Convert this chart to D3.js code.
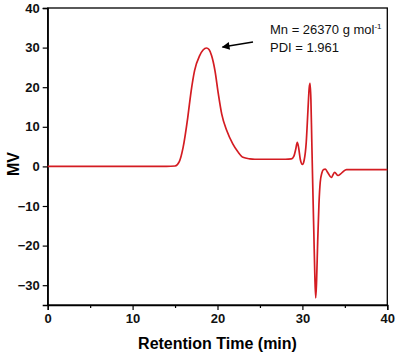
<!DOCTYPE html>
<html><head><meta charset="utf-8">
<script src="https://cdn.jsdelivr.net/npm/d3@7"></script>
<style>body{margin:0;background:#fff}svg{display:block}</style>
</head><body>
<svg id="c" width="398" height="356"></svg>
<script>
const times = [0,5,10,14,15,15.5,15.95,16.5,16.9,17.3,17.9,18.3,18.7,19.0,19.3,19.7,20.1,20.5,21.1,21.8,22.4,23.0,23.8,24.4,26,28.0,28.7,29.0,29.2,29.4,29.55,29.75,30.0,30.2,30.45,30.65,30.8,30.9,31.0,31.1,31.2,31.35,31.47,31.57,31.67,31.8,31.95,32.1,32.3,32.5,32.7,33.0,33.4,33.8,34.2,34.5,34.8,35.2,37,40];
const signal = [0,0,0,0,0.1,1.2,4.8,12.4,19.1,24.2,28,29.4,29.9,29.5,28,24.2,18.3,13.2,9,5.7,3.7,2.3,1.9,1.8,1.8,1.8,1.9,2.6,4.2,6.1,4.8,1.8,0.5,1.5,6,14,19.8,21,17,7,-3,-17,-28,-33.2,-29,-19,-9.5,-4,-1.6,-0.8,-0.7,-1.6,-2.8,-1.5,-2.3,-1.9,-1.3,-0.8,-0.8,-0.8];
const xTicks = [0,10,20,30,40];
const xMinor = [5,15,25,35];
const yTicks = [-30,-20,-10,0,10,20,30,40];
const annoLines = ["Mn = 26370 g mol", "PDI = 1.961"];

const svg = d3.select("#c");
const L=47.7, R=387.3, T=8, B=305;
const x = d3.scaleLinear().domain([0,40]).range([L,R]);
const y = d3.scaleLinear().domain([-35,40]).range([B,T]);

// frame
svg.append("rect").attr("x",L).attr("y",T).attr("width",R-L).attr("height",B-T)
  .attr("fill","none").attr("stroke","#000").attr("stroke-width",1.3);

const xa = svg.append("g").attr("transform",`translate(0,${B})`)
  .call(d3.axisBottom(x).tickValues(xTicks).tickSize(5).tickPadding(4).tickFormat(d3.format("d")));
svg.append("g").attr("transform",`translate(0,${B})`)
  .call(d3.axisBottom(x).tickValues(xMinor).tickSize(3).tickFormat(""))
  .select(".domain").remove();
const ya = svg.append("g").attr("transform",`translate(${L},0)`)
  .call(d3.axisLeft(y).tickValues(yTicks).tickSize(5).tickPadding(3).tickFormat(d3.format("d")));
svg.selectAll(".tick line").attr("stroke","#000").attr("stroke-width",1.2);
svg.selectAll(".domain").attr("stroke","#000").attr("stroke-width",1.3);
svg.selectAll(".tick text").attr("font-family","Liberation Sans, Arial, sans-serif")
  .attr("font-weight","bold").attr("font-size",13).attr("fill","#111");

svg.append("text").attr("x",(L+R)/2).attr("y",349).attr("text-anchor","middle")
  .attr("font-family","Liberation Sans, Arial, sans-serif").attr("font-weight","bold")
  .attr("font-size",16).text("Retention Time (min)");
svg.append("text").attr("transform","translate(19,164) rotate(-90)").attr("text-anchor","middle")
  .attr("font-family","Liberation Sans, Arial, sans-serif").attr("font-weight","bold")
  .attr("font-size",16).text("MV");

const line = d3.line().x((d,i)=>x(times[i])).y(d=>y(d)).curve(d3.curveMonotoneX);
svg.append("path").datum(signal).attr("d",line).attr("fill","none")
  .attr("stroke","#d41c22").attr("stroke-width",1.7).attr("stroke-linejoin","round");

// annotation
const t1 = svg.append("text").attr("x",270).attr("y",34)
  .attr("font-family","Liberation Sans, Arial, sans-serif").attr("font-size",13).attr("fill","#111")
  .text(annoLines[0]);
t1.append("tspan").attr("dy",-5).attr("font-size",8).text("-1");
svg.append("text").attr("x",270).attr("y",52)
  .attr("font-family","Liberation Sans, Arial, sans-serif").attr("font-size",13).attr("fill","#111")
  .text(annoLines[1]);

svg.append("defs").append("marker").attr("id","ah").attr("viewBox","0 0 10 10")
  .attr("refX",9).attr("refY",5).attr("markerWidth",7).attr("markerHeight",6).attr("orient","auto")
  .append("path").attr("d","M0,0 L10,5 L0,10 z").attr("fill","#000");
svg.append("line").attr("x1",253).attr("y1",42).attr("x2",222.5).attr("y2",47)
  .attr("stroke","#000").attr("stroke-width",1.3).attr("marker-end","url(#ah)");
</script>
</body></html>
